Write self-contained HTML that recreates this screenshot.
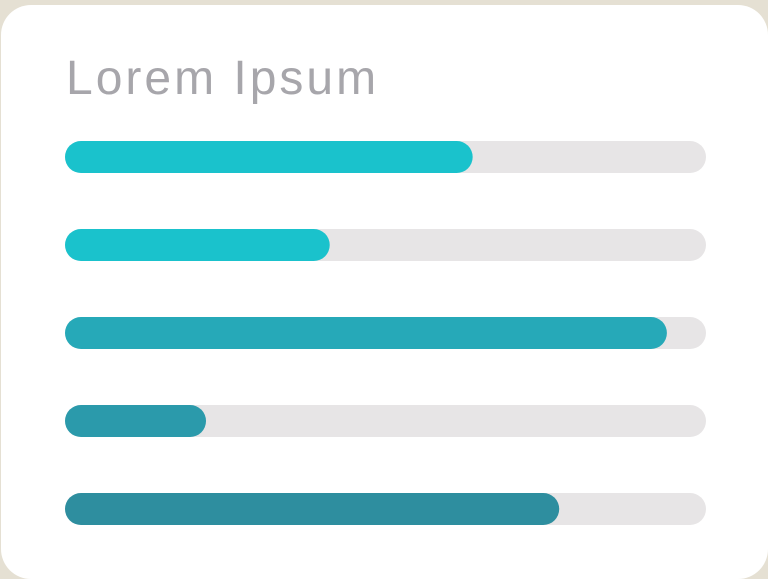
<!DOCTYPE html>
<html><head><meta charset="utf-8"><style>
html,body{margin:0;padding:0;width:768px;height:578px;background:#e5e0d3;overflow:hidden}
#card{position:absolute;left:1px;top:5px;width:767px;height:574px;background:#fff;border-radius:30px}
#title{position:absolute;left:66px;top:51px;font:48px "Liberation Sans",sans-serif;color:#a7a6ab;letter-spacing:3px;margin:0;font-weight:normal}
</style></head><body>
<div id="card"></div>
<h1 id="title">Lorem Ipsum</h1>
<svg id="chart" width="768" height="578" style="position:absolute;left:0;top:0"></svg>
<script>
const categories = ["Item 1","Item 2","Item 3","Item 4","Item 5"];
const values = [63.6, 41.3, 93.9, 22.0, 77.1];
const colors = ["#1ac2cc","#1ac2cc","#26a9b8","#2b9aab","#2e8e9f"];
const maxValue = 100;
const x0 = 65, trackW = 641, barH = 32, firstY = 141, step = 88;
const xScale = v => x0 + v / maxValue * trackW;
const svg = document.getElementById('chart');
const NS = 'http://www.w3.org/2000/svg';
categories.forEach((c, i) => {
  const y = firstY + i * step;
  const t = document.createElementNS(NS, 'rect');
  t.setAttribute('x', x0); t.setAttribute('y', y);
  t.setAttribute('width', trackW); t.setAttribute('height', barH);
  t.setAttribute('rx', barH/2); t.setAttribute('fill', '#e7e5e6');
  
  
  svg.appendChild(t);
  const b = document.createElementNS(NS, 'rect');
  b.setAttribute('x', x0); b.setAttribute('y', y);
  b.setAttribute('width', xScale(values[i]) - x0); b.setAttribute('height', barH);
  b.setAttribute('rx', barH/2); b.setAttribute('fill', colors[i]);
  
  
  svg.appendChild(b);
});
</script>
</body></html>
